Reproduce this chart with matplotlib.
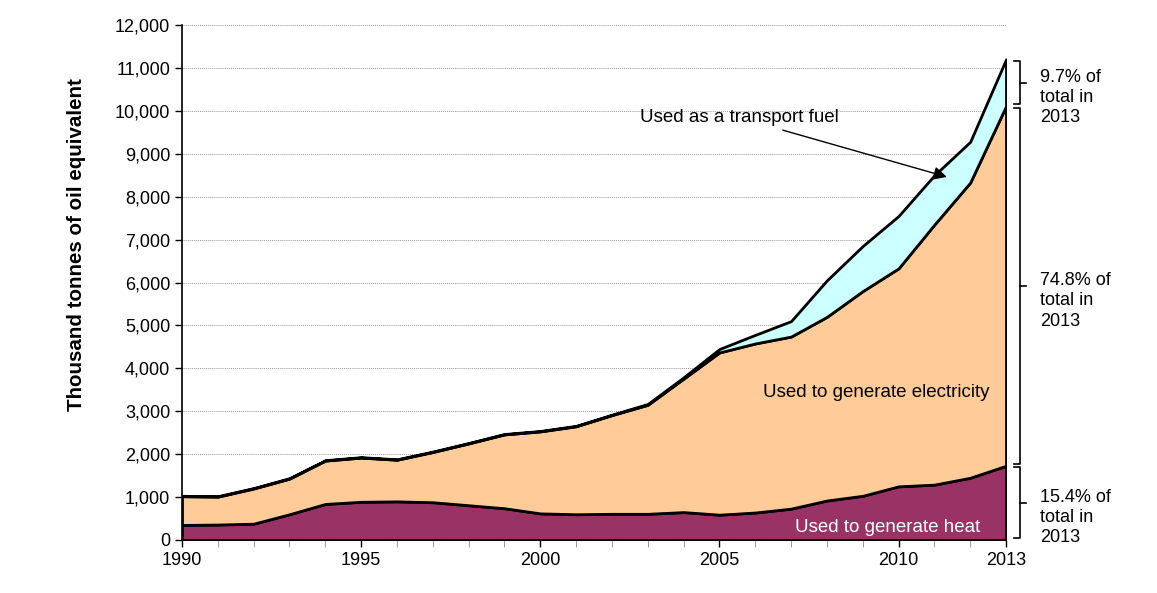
"""Renewable energy use by purpose, stacked area chart"""
import matplotlib.pyplot as plt
from matplotlib.ticker import FuncFormatter, MultipleLocator

plt.rcParams['font.family'] = ['Liberation Sans', 'DejaVu Sans']

# Data (thousand tonnes of oil equivalent)
years = list(range(1990, 2014))
heat = [350, 360, 380, 600, 840, 890, 900, 880, 810, 740, 620, 600,
        610, 610, 650, 590, 640, 730, 920, 1030, 1250, 1290, 1450, 1730]
electricity = [670, 650, 820, 830, 1010, 1030, 970, 1170, 1440, 1720, 1910, 2050,
               2300, 2540, 3110, 3780, 3940, 4010, 4280, 4770, 5080, 6060, 6880, 8380]
transport = [10, 10, 10, 10, 10, 10, 10, 10, 10, 10, 10, 10,
             10, 20, 30, 80, 200, 360, 850, 1050, 1220, 1150, 950, 1090]
shares = ["15.4%", "74.8%", "9.7%"]
xtick_labels = [1990, 1995, 2000, 2005, 2010, 2013]

fig = plt.figure(figsize=(11.57, 5.93), dpi=100)
ax = fig.add_axes([0.1573, 0.0894, 0.7122, 0.8684])

colors = ['#993366', '#FFCC99', '#CCFFFF']
ax.stackplot(years, heat, electricity, transport, colors=colors,
             edgecolor='black', linewidth=2, zorder=3)

ax.set_xlim(1990, 2013)
ax.set_ylim(0, 12000)
ax.yaxis.set_major_locator(MultipleLocator(1000))
ax.yaxis.set_major_formatter(FuncFormatter(lambda v, p: f"{int(v):,}"))
ax.set_xticks(xtick_labels)
ax.set_xticks(years, minor=True)
ax.tick_params(axis='both', labelsize=13, direction='out', length=5, width=1)
ax.tick_params(axis='x', which='minor', length=5, color='#888888')
ax.grid(axis='y', linestyle=(0, (1, 1)), color='#999999', linewidth=0.7, zorder=0)
for side in ['top', 'right']:
    ax.spines[side].set_visible(False)
ax.spines['left'].set_linewidth(1.2)
ax.spines['bottom'].set_linewidth(1.2)

ax.set_ylabel("Thousand tonnes of oil equivalent", fontsize=14.8, fontweight='bold')
ax.yaxis.set_label_coords(-0.117, 0.573)

# Labels
ax.text(2009.37, 3430, "Used to generate electricity", fontsize=13.5,
        ha='center', va='center', zorder=5)
ax.text(2009.7, 300, "Used to generate heat", fontsize=13.5, color='white',
        ha='center', va='center', zorder=5)
ax.annotate("Used as a transport fuel", xy=(2011.35, 8460), xytext=(2002.78, 9840),
            fontsize=13.5, va='center', ha='left', zorder=6,
            arrowprops=dict(arrowstyle='-|>', color='black', lw=1.0,
                            mutation_scale=20, shrinkA=3, shrinkB=0))

# Brackets on the right
h = heat[-1]
e = h + electricity[-1]
t = e + transport[-1]
bounds = [(0, h), (h, e), (e, t)]
xb = 2013.39
for (lo, hi), s in zip(bounds, shares):
    mid = (lo + hi) / 2
    ax.plot([2013.22, xb, xb, 2013.22], [lo + 40, lo + 40, hi - 40, hi - 40],
            color='black', lw=1.2, clip_on=False, zorder=5)
    ax.plot([xb, 2013.56], [mid, mid], color='black', lw=1.2, clip_on=False)
    ax.annotate(f"{s} of\ntotal in\n2013", xy=(2013.95, mid), xytext=(0, 10),
                textcoords='offset points', fontsize=13, va='top', ha='left',
                linespacing=1.25, annotation_clip=False)

fig.savefig("out.png", dpi=100)
